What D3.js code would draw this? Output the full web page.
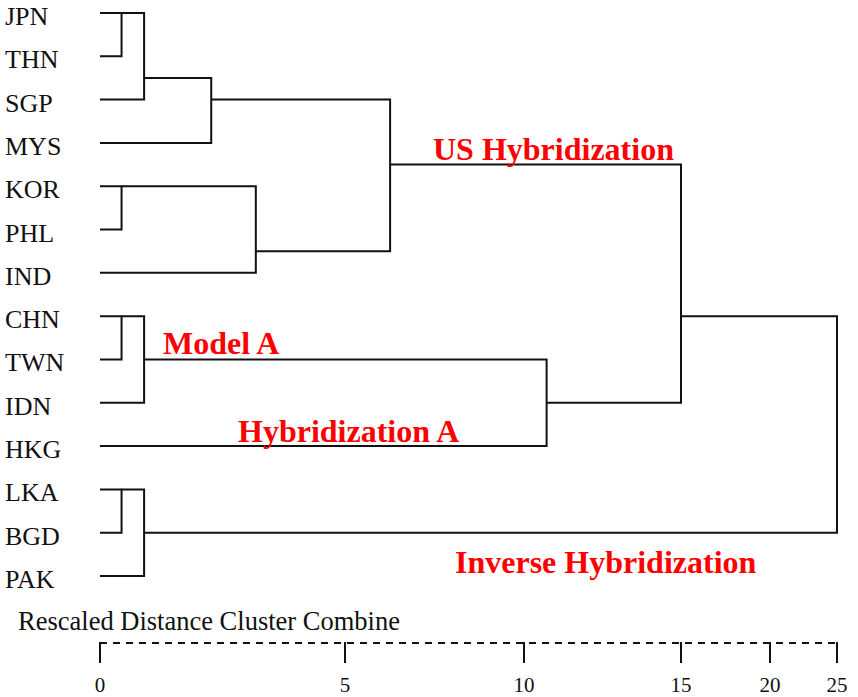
<!DOCTYPE html>
<html>
<head>
<meta charset="utf-8">
<script src="https://cdn.jsdelivr.net/npm/d3@7"></script>
<style>
  body { margin: 0; background: #fff; }
</style>
</head>
<body>
<script>
let width = 858,
    height = 697;

// leaves, top to bottom
const leaves = ["JPN", "THN", "SGP", "MYS", "KOR", "PHL", "IND", "CHN", "TWN", "IDN", "HKG", "LKA", "BGD", "PAK"];

// merges c1..c13 (left child, right child, rescaled distance, row of the joined line)
const clusterLeft     = ["JPN", "c1", "c2", "KOR", "c4", "c3", "CHN", "c7", "c8", "c6", "LKA", "c11", "c10"];
const clusterRight    = ["THN", "SGP", "MYS", "PHL", "IND", "c5", "TWN", "IDN", "HKG", "c9", "BGD", "PAK", "c12"];
const clusterDistance = [0.44, 0.9, 2.27, 0.44, 3.18, 6.26, 0.44, 0.9, 10.72, 15, 0.44, 0.9, 25];
const clusterRow      = [0, 1.5, 2, 4, 5.5, 3.5, 7, 8, 9, 7, 11, 12, 9.5];

// axis
const tickValues = [0, 5, 10, 15, 20, 25];
const axisTitle = "Rescaled Distance Cluster Combine";

// group annotations
const noteText = ["US Hybridization", "Model A", "Hybridization A", "Inverse Hybridization"];

const serif = "'Liberation Serif', 'Times New Roman', Times, serif";

let svg = d3.select("body").append("svg")
    .attr("width", width).attr("height", height)
    .style("font-family", serif);

// the printed axis is not evenly spaced, so map it piece by piece
let x = d3.scaleLinear()
    .domain(tickValues)
    .range([100, 345, 524, 681, 770, 837]);

let y = d3.scaleLinear()
    .domain([0, leaves.length - 1])
    .range([13, 576]);

// distance and row of every node
let dist = {}, row = {};
leaves.forEach(function (d, i) { dist[d] = 0; row[d] = i; });
clusterDistance.forEach(function (d, i) {
    dist["c" + (i + 1)] = d;
    row["c" + (i + 1)] = clusterRow[i];
});

let lines = [];
clusterDistance.forEach(function (d, i) {
    let a = clusterLeft[i], b = clusterRight[i];
    lines.push([[x(dist[a]), y(row[a])], [x(d), y(row[a])], [x(d), y(row[b])], [x(dist[b]), y(row[b])]]);
});

svg.append("g").selectAll("path")
    .data(lines)
    .enter()
    .append("path")
    .attr("d", d3.line())
    .attr("fill", "none")
    .attr("stroke", "#111")
    .attr("stroke-width", 2);

svg.append("g").selectAll("text")
    .data(leaves)
    .enter()
    .append("text")
    .attr("x", 5)
    .attr("y", function (d, i) { return y(i) + 12; })
    .attr("font-family", serif)
    .attr("font-size", 26)
    .attr("fill", "#111")
    .text(function (d) { return d; });

// axis
let axisY = 643;
let axisG = svg.append("g");
axisG.append("line")
    .attr("x1", x(0)).attr("x2", x(25))
    .attr("y1", axisY).attr("y2", axisY)
    .attr("stroke", "#111")
    .attr("stroke-width", 2)
    .attr("stroke-dasharray", "7,6");
axisG.selectAll(".tick")
    .data(tickValues)
    .enter()
    .append("line")
    .attr("x1", function (d) { return x(d); })
    .attr("x2", function (d) { return x(d); })
    .attr("y1", axisY - 1).attr("y2", axisY + 20)
    .attr("stroke", "#111")
    .attr("stroke-width", 2);
axisG.selectAll(".lbl")
    .data(tickValues)
    .enter()
    .append("text")
    .attr("x", function (d) { return x(d); })
    .attr("y", 692)
    .attr("text-anchor", "middle")
    .attr("font-family", serif)
    .attr("font-size", 21)
    .attr("fill", "#111")
    .text(function (d) { return d; });
svg.append("text")
    .attr("x", 18).attr("y", 630)
    .attr("font-family", serif)
    .attr("font-size", 26.5)
    .attr("fill", "#111")
    .text(axisTitle);

// red annotations
let notePos = [[433, 160], [163, 354], [238, 442], [455, 573]];
svg.append("g").selectAll("text")
    .data(noteText)
    .enter()
    .append("text")
    .attr("x", function (d, i) { return notePos[i][0]; })
    .attr("y", function (d, i) { return notePos[i][1]; })
    .attr("font-family", serif)
    .attr("font-size", 32)
    .attr("font-weight", "bold")
    .attr("fill", "#ff0000")
    .text(function (d) { return d; });
</script>
</body>
</html>
